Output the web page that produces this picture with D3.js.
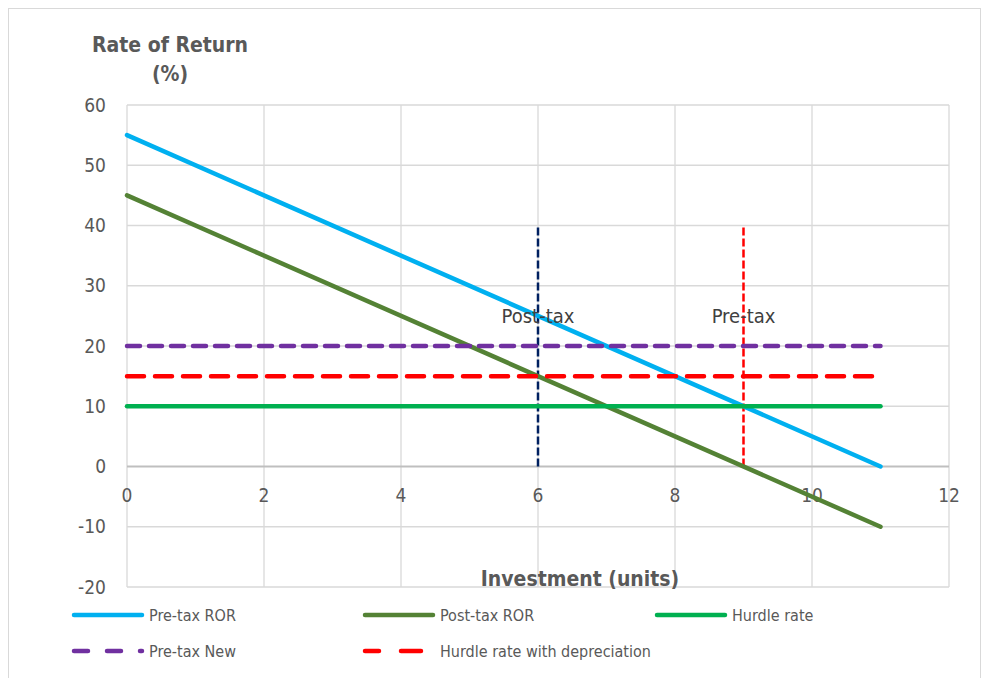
<!DOCTYPE html>
<html>
<head>
<meta charset="utf-8">
<script src="https://cdn.jsdelivr.net/npm/d3@7"></script>
<style>
  body { margin: 0; background: #fff; }
  text { font-family: "DejaVu Sans Condensed", "Liberation Sans Narrow", sans-serif; }
</style>
</head>
<body>
<div id="chart"></div>
<script>
const xTicks = [0, 2, 4, 6, 8, 10, 12];
const yTicks = [-20, -10, 0, 10, 20, 30, 40, 50, 60];

const preTaxRor = [{ x: 0, y: 55 }, { x: 11, y: 0 }];
const postTaxRor = [{ x: 0, y: 45 }, { x: 11, y: -10 }];
const hurdleRate = [{ x: 0, y: 10 }, { x: 11, y: 10 }];
const preTaxNew = [{ x: 0, y: 20 }, { x: 11, y: 20 }];
const hurdleDep = [{ x: 0, y: 15 }, { x: 11, y: 15 }];

const postTaxMarker = [{ x: 6, y: 0 }, { x: 6, y: 40 }];
const preTaxMarker = [{ x: 9, y: 0 }, { x: 9, y: 40 }];
const markerLabels = [
  { x: 6, y: 25, text: 'Post-tax' },
  { x: 9, y: 25, text: 'Pre-tax' }
];

const series = [
  { name: 'Pre-tax ROR', data: preTaxRor, color: '#00b0f0', dash: null, legendDash: null },
  { name: 'Post-tax ROR', data: postTaxRor, color: '#548235', dash: null, legendDash: null },
  { name: 'Hurdle rate', data: hurdleRate, color: '#00b050', dash: null, legendDash: null },
  { name: 'Pre-tax New', data: preTaxNew, color: '#7030a0', dash: '13,9', legendDash: '14,19' },
  { name: 'Hurdle rate with depreciation', data: hurdleDep, color: '#ff0000', dash: '17,11', legendDash: '14,22,20,100' }
];

const width = 982;
const height = 678;
const margin = { top: 105, right: 33, bottom: 91, left: 127 };

const svg = d3.select('#chart').append('svg')
  .attr('width', width)
  .attr('height', height);

svg.append('rect')
  .attr('x', 8.5).attr('y', 8.5)
  .attr('width', 972).attr('height', 680)
  .attr('fill', 'none')
  .attr('stroke', '#d9d9d9');

const xScale = d3.scaleLinear().domain([0, 12]).range([margin.left, width - margin.right]);
const yScale = d3.scaleLinear().domain([-20, 60]).range([height - margin.bottom, margin.top]);

const grid = svg.append('g');
grid.selectAll('.vgrid').data(xTicks).join('line')
  .attr('x1', d => xScale(d)).attr('x2', d => xScale(d))
  .attr('y1', yScale(60)).attr('y2', yScale(-20))
  .attr('stroke', '#d9d9d9').attr('stroke-width', 1.3);
grid.selectAll('.hgrid').data(yTicks).join('line')
  .attr('x1', xScale(0)).attr('x2', xScale(12))
  .attr('y1', d => yScale(d)).attr('y2', d => yScale(d))
  .attr('stroke', d => d === 0 ? '#bfbfbf' : '#d9d9d9')
  .attr('stroke-width', d => d === 0 ? 2 : 1.3);

// y tick labels
svg.append('g').selectAll('text').data(yTicks).join('text')
  .attr('x', xScale(0) - 21)
  .attr('y', d => yScale(d))
  .attr('dy', '0.35em')
  .attr('text-anchor', 'end')
  .attr('font-size', 19)
  .attr('fill', '#595959')
  .text(d => d);

// x tick labels (sit under the zero line)
svg.append('g').selectAll('text').data(xTicks).join('text')
  .attr('x', d => xScale(d))
  .attr('y', yScale(0) + 35)
  .attr('text-anchor', 'middle')
  .attr('font-size', 19)
  .attr('fill', '#595959')
  .text(d => d);

const line = d3.line().x(d => xScale(d.x)).y(d => yScale(d.y));

// vertical markers
svg.append('path').datum(postTaxMarker)
  .attr('d', line).attr('fill', 'none')
  .attr('stroke', '#002060').attr('stroke-width', 2.5)
  .attr('stroke-dasharray', '8,3');
svg.append('path').datum(preTaxMarker)
  .attr('d', line).attr('fill', 'none')
  .attr('stroke', '#ff0000').attr('stroke-width', 2.5)
  .attr('stroke-dasharray', '8,3');

series.forEach(s => {
  svg.append('path').datum(s.data)
    .attr('d', line)
    .attr('fill', 'none')
    .attr('stroke', s.color)
    .attr('stroke-width', 4.5)
    .attr('stroke-linecap', 'round')
    .attr('stroke-dasharray', s.dash);
});

svg.append('g').selectAll('text').data(markerLabels).join('text')
  .attr('x', d => xScale(d.x))
  .attr('y', d => yScale(d.y) + 7)
  .attr('text-anchor', 'middle')
  .attr('font-size', 20)
  .attr('fill', '#404040')
  .text(d => d.text);

// titles
svg.append('text')
  .attr('x', 170).attr('y', 52)
  .attr('text-anchor', 'middle')
  .attr('font-size', 21).attr('font-weight', 'bold')
  .attr('fill', '#595959')
  .text('Rate of Return');
svg.append('text')
  .attr('x', 170).attr('y', 81)
  .attr('text-anchor', 'middle')
  .attr('font-size', 21).attr('font-weight', 'bold')
  .attr('fill', '#595959')
  .text('(%)');
svg.append('text')
  .attr('x', 580).attr('y', 586)
  .attr('text-anchor', 'middle')
  .attr('font-size', 21).attr('font-weight', 'bold')
  .attr('fill', '#595959')
  .text('Investment (units)');

// legend
const legendPos = [
  { x: 72, y: 615 }, { x: 363, y: 615 }, { x: 655, y: 615 },
  { x: 72, y: 651 }, { x: 363, y: 651 }
];
const legend = svg.append('g').selectAll('g').data(series).join('g')
  .attr('transform', (d, i) => `translate(${legendPos[i].x},${legendPos[i].y})`);
legend.append('line')
  .attr('x1', 2).attr('x2', 70)
  .attr('stroke', d => d.color)
  .attr('stroke-width', 4.5)
  .attr('stroke-linecap', 'round')
  .attr('stroke-dasharray', d => d.legendDash);
legend.append('text')
  .attr('x', 77)
  .attr('dy', '0.35em')
  .attr('font-size', 16)
  .attr('fill', '#595959')
  .text(d => d.name);
</script>
</body>
</html>
